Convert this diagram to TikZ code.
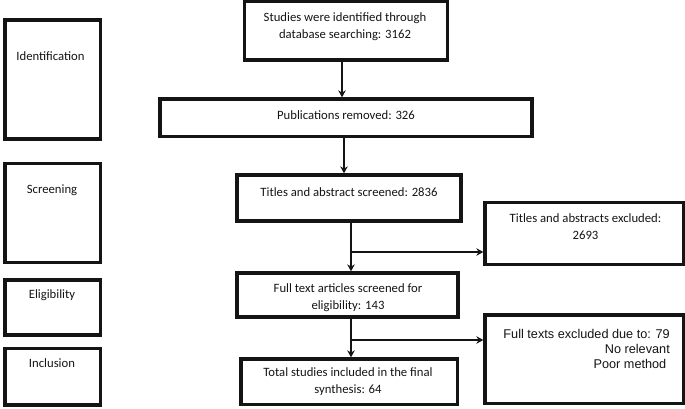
\documentclass[tikz,border=0pt]{standalone}
\usepackage{fontspec}
\setmainfont{Carlito}
\newfontfamily\notefont{Liberation Sans}
\usepackage{tikz}
\usetikzlibrary{arrows.meta}
\definecolor{ink}{HTML}{141414}
\tikzset{
  stageBox/.style={draw=ink, line width=3.3pt, inner sep=0pt, minimum width=95.5pt},
  flowBox/.style={draw=ink, line width=3.3pt, inner sep=0pt},
  flowText/.style={text=ink, font=\fontsize{12.7}{17}\selectfont, align=center, inner sep=0pt, anchor=base},
  noteText/.style={text=ink, font=\notefont\fontsize{12.7}{15}\selectfont, align=right, inner sep=0pt, anchor=base east},
  flowArrow/.style={draw=ink, line width=1.2pt, -{Stealth[length=7pt,width=7.5pt]}},
  flowLine/.style={draw=ink, line width=1.2pt}
}

\begin{document}
\begin{tikzpicture}[x=1pt, y=-1pt]
  \useasboundingbox (0,0) rectangle (685,408);

  \node[stageBox, minimum height=119pt] (ident) at (52.75,79.5) {};
  \node[stageBox, minimum height=99pt] (screen) at (52.75,213) {};
  \node[stageBox, minimum height=55pt] (elig) at (52.75,307.5) {};
  \node[stageBox, minimum height=56.5pt] (incl) at (52.75,376.75) {};

  \node[flowText] (identLabel) at (50.5,60) {Identification};
  \node[flowText] (screenLabel) at (52,193) {Screening};
  \node[flowText] (eligLabel) at (52,298) {Eligibility};
  \node[flowText] (inclLabel) at (52,367) {Inclusion};

  \node[flowBox, minimum width=203pt, minimum height=58.5pt] (studies) at (346,30.75) {};
  \node[flowBox, minimum width=372pt, minimum height=37.5pt] (pubs) at (346,117.75) {};
  \node[flowBox, minimum width=224pt, minimum height=46pt] (titles) at (349,198) {};
  \node[flowBox, minimum width=221pt, minimum height=44pt] (fulltext) at (347.5,295) {};
  \node[flowBox, minimum width=216.5pt, minimum height=45.5pt] (total) at (349.25,381.75) {};
  \node[flowBox, minimum width=198.5pt, minimum height=62pt] (titlesOut) at (584.25,233.5) {};
  \node[flowBox, minimum width=198.5pt, minimum height=88.5pt] (fullOut) at (584.25,359.25) {};

  % multi-line texts sit on the baseline of their last line
  \node[flowText] (studiesText) at (345,38) {Studies were identified through\\database searching: 3162};
  \node[flowText] (pubsText) at (346,119) {Publications removed: 326};
  \node[flowText] (titlesText) at (349,196) {Titles and abstract screened: 2836};
  \node[flowText] (fulltextText) at (348,309) {Full text articles screened for\\eligibility: 143};
  \node[flowText] (totalText) at (348,393) {Total studies included in the final\\synthesis: 64};
  \node[flowText] (titlesOutText) at (585.5,239.5) {Titles and abstracts excluded:\\2693};
  \node[noteText] (fullOutText) at (670,368.5) {Full texts excluded due to: 79\\No relevant\\Poor method\hspace*{3.5pt}};

  \coordinate (titlesSplit) at (351,252);
  \coordinate (fulltextSplit) at (351,340);

  \draw[flowArrow] ([xshift=-4pt]studies.south) -- ([xshift=-4pt]studies.south |- pubs.north);
  \draw[flowArrow] ([xshift=-2pt]pubs.south) -- ([xshift=-2pt]pubs.south |- titles.north);
  \draw[flowArrow] ([xshift=2pt]titles.south) -- ([xshift=2pt]titles.south |- fulltext.north);
  \draw[flowArrow] (titlesSplit) -- (titlesSplit -| titlesOut.west);
  \draw[flowArrow] ([xshift=3.5pt]fulltext.south) -- ([xshift=3.5pt]fulltext.south |- total.north);
  \draw[flowArrow] (fulltextSplit) -- (fulltextSplit -| fullOut.west);
\end{tikzpicture}
\end{document}
